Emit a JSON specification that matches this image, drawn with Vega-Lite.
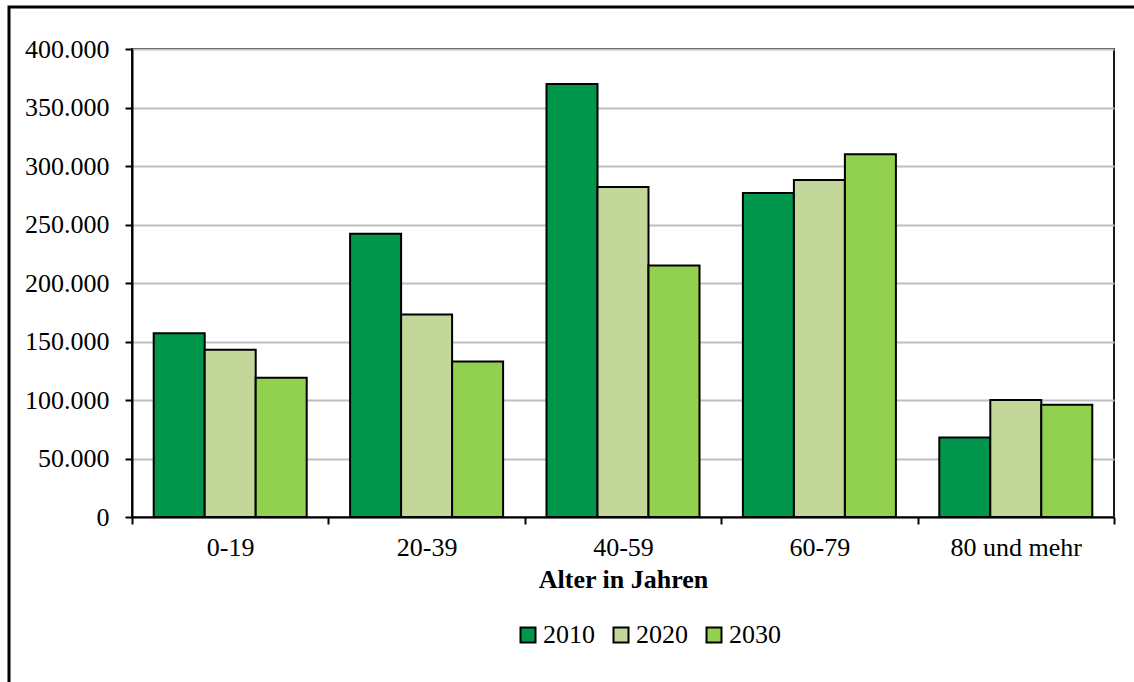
{
  "$schema": "https://vega.github.io/schema/vega-lite/v6.json",
  "autosize": {"type": "none"},
  "width": 982,
  "height": 468,
  "padding": {"left": 132, "top": 49, "right": 20, "bottom": 165},
  "background": "white",
  "title": {
    "text": "Abbildung 13: Ergebnisse der Basisvariante bis 2030, Personen",
    "anchor": "start",
    "frame": "bounds",
    "baseline": "alphabetic",
    "offset": 4,
    "dx": 14,
    "font": "Liberation Serif",
    "fontSize": 24,
    "fontWeight": "bold",
    "color": "#000"
  },
  "data": {
    "values": [
      {"alter": "0-19", "jahr": "2010", "personen": 157000},
      {"alter": "0-19", "jahr": "2020", "personen": 143000},
      {"alter": "0-19", "jahr": "2030", "personen": 119000},
      {"alter": "20-39", "jahr": "2010", "personen": 242000},
      {"alter": "20-39", "jahr": "2020", "personen": 173000},
      {"alter": "20-39", "jahr": "2030", "personen": 133000},
      {"alter": "40-59", "jahr": "2010", "personen": 370000},
      {"alter": "40-59", "jahr": "2020", "personen": 282000},
      {"alter": "40-59", "jahr": "2030", "personen": 215000},
      {"alter": "60-79", "jahr": "2010", "personen": 277000},
      {"alter": "60-79", "jahr": "2020", "personen": 288000},
      {"alter": "60-79", "jahr": "2030", "personen": 310000},
      {"alter": "80 und mehr", "jahr": "2010", "personen": 68000},
      {"alter": "80 und mehr", "jahr": "2020", "personen": 100000},
      {"alter": "80 und mehr", "jahr": "2030", "personen": 96000}
    ]
  },
  "layer": [
    {
      "data": {"values": [{"rahmen": "Diagrammbereich"}]},
      "mark": {"type": "rect", "fill": null, "stroke": "#000", "strokeWidth": 3},
      "encoding": {
        "x": {"value": -123},
        "y": {"value": -42},
        "x2": {"value": 1015},
        "y2": {"value": 650}
      }
    },
    {
      "mark": {"type": "bar", "stroke": "#000", "strokeWidth": 2},
      "encoding": {
        "x": {
          "field": "alter",
          "type": "nominal",
          "sort": null,
          "scale": {"paddingInner": 0, "paddingOuter": 0},
          "axis": {
            "title": "Alter in Jahren",
            "labelAngle": 0,
            "tickBand": "extent",
            "domainColor": "#000",
            "domainWidth": 2,
            "tickColor": "#000",
            "tickWidth": 2,
            "tickSize": 7,
            "labelPadding": 10,
            "titlePadding": 6,
            "titleFontWeight": "bold"
          }
        },
        "xOffset": {
          "field": "jahr",
          "type": "nominal",
          "scale": {"paddingInner": 0, "paddingOuter": 0.4255}
        },
        "y": {
          "field": "personen",
          "type": "quantitative",
          "scale": {"domain": [0, 400000], "nice": false},
          "axis": {
            "title": null,
            "values": [0, 50000, 100000, 150000, 200000, 250000, 300000, 350000, 400000],
            "labelExpr": "replace(format(datum.value, ',d'), regexp(',', 'g'), '.')",
            "labelOverlap": false,
            "domainColor": "#000",
            "domainWidth": 2,
            "tickColor": "#000",
            "tickWidth": 2,
            "tickSize": 7,
            "labelPadding": 16,
            "grid": true,
            "gridColor": "#BFBFBF",
            "gridWidth": 2
          }
        },
        "color": {
          "field": "jahr",
          "type": "nominal",
          "scale": {
            "domain": ["2010", "2020", "2030"],
            "range": ["#00964B", "#C4D79B", "#92D050"]
          },
          "legend": {
            "title": null,
            "orient": "none",
            "direction": "horizontal",
            "legendX": 383,
            "legendY": 573,
            "symbolType": "square",
            "symbolSize": 225,
            "symbolStrokeColor": "#000",
            "symbolStrokeWidth": 2,
            "symbolOpacity": 1,
            "labelOffset": 2,
            "columnPadding": 13,
            "labelFontSize": 26,
            "labelFont": "Liberation Serif",
            "labelColor": "#000"
          }
        }
      }
    }
  ],
  "config": {
    "font": "Liberation Serif",
    "view": {"stroke": "#1a1a1a", "strokeWidth": 2},
    "axis": {
      "labelFont": "Liberation Serif",
      "labelFontSize": 26,
      "labelColor": "#000",
      "titleFont": "Liberation Serif",
      "titleFontSize": 26,
      "titleColor": "#000"
    }
  }
}
